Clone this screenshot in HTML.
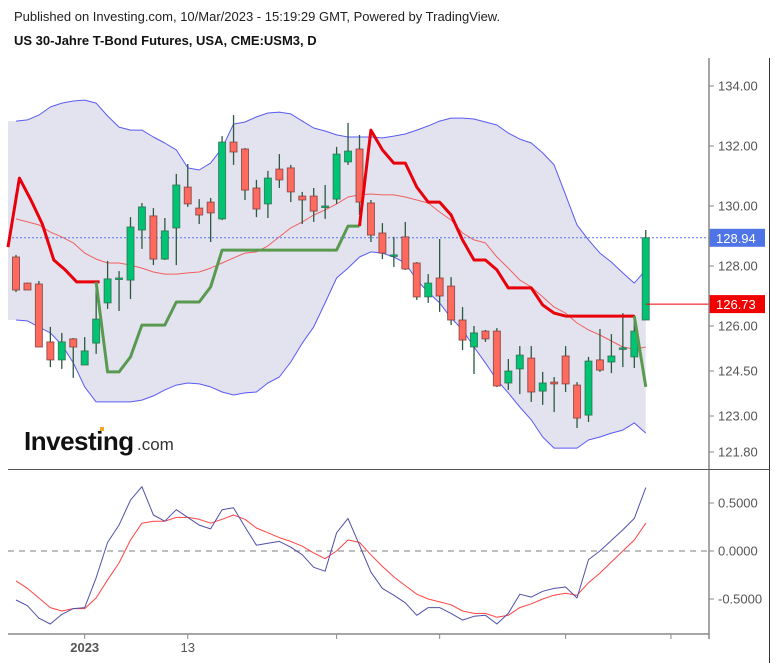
<!DOCTYPE html>
<html><head><meta charset="utf-8">
<style>
html,body{margin:0;padding:0;background:#fff;}
body{width:777px;height:663px;overflow:hidden;font-family:"Liberation Sans",sans-serif;}
svg text{font-family:"Liberation Sans",sans-serif;}
</style></head>
<body>
<svg id="chart" width="777" height="663" viewBox="0 0 777 663" xmlns="http://www.w3.org/2000/svg">
<text x="14" y="21" font-size="13" fill="#222">Published on Investing.com, 10/Mar/2023 - 15:19:29 GMT, Powered by TradingView.</text>
<text x="14" y="45" font-size="13" font-weight="bold" fill="#111">US 30-Jahre T-Bond Futures, USA, CME:USM3, D</text>
<g id="price"></g>
<g id="osc"></g>
<g id="frame">
  <line x1="709" y1="58" x2="709" y2="639" stroke="#888" stroke-width="1.5"/>
  <line x1="769.5" y1="58" x2="769.5" y2="663" stroke="#333" stroke-width="1"/>
  <line x1="8" y1="469.5" x2="770" y2="469.5" stroke="#555" stroke-width="1"/>
  <line x1="8" y1="634" x2="709" y2="634" stroke="#888" stroke-width="1.5"/>
</g>
<g>
  <text x="24" y="450" font-size="26" font-weight="bold" fill="#111" letter-spacing="-0.5">Investing</text>
  <text x="137" y="450" font-size="17" fill="#333">.com</text>
  <rect x="100" y="427" width="4" height="4" fill="#f5a623"/>
</g>
</svg>
<script>
const opens  =[128.3,127.43,127.4,125.47,124.87,125.57,124.7,125.43,126.77,127.55,127.53,129.2,129.67,128.23,129.27,130.63,129.93,130.13,129.57,132.13,131.9,130.6,130.07,131.23,131.27,130.33,130.33,129.97,130.23,131.47,131.9,130.1,129.1,128.37,128.97,128.1,126.97,127.6,127.33,126.2,125.3,125.83,125.83,124.1,124.57,124.93,123.83,124.13,125.0,124.03,123.03,124.87,124.8,125.27,124.97,126.2];
const highs  =[128.37,127.45,127.5,125.97,125.77,125.6,125.63,127.47,128.17,127.83,129.63,130.1,129.93,129.6,131.07,131.4,130.23,130.27,132.33,133.03,131.93,130.87,131.17,131.73,131.37,130.47,130.6,130.7,131.97,132.77,132.37,130.2,129.43,128.97,129.47,128.13,127.73,128.9,127.63,126.63,126.0,125.87,125.93,124.9,125.33,125.33,124.47,124.3,125.33,124.13,124.97,125.9,125.73,126.43,126.37,129.2];
const lows   =[127.13,127.2,125.3,124.63,124.57,124.27,124.7,125.07,126.57,126.5,126.9,128.57,128.03,128.2,128.03,129.97,129.4,128.8,129.53,131.37,130.2,129.63,129.6,130.6,130.13,129.4,129.47,129.57,130.07,131.37,129.7,128.8,128.23,127.97,127.87,126.87,126.77,126.47,126.03,125.2,124.4,125.47,123.97,123.87,123.73,123.47,123.37,123.13,123.8,122.6,122.8,124.47,124.43,124.63,124.6,126.2];
const closes =[127.2,127.2,125.3,124.87,125.47,125.3,125.17,126.23,127.57,127.6,129.3,129.97,128.23,129.17,130.7,130.07,129.7,129.77,132.13,131.8,130.53,129.9,130.93,130.87,130.47,130.2,129.83,130.0,131.73,131.83,130.13,129.03,128.43,128.37,127.9,126.97,127.43,127.0,126.2,125.53,125.77,125.57,124.0,124.5,125.03,123.8,124.1,124.07,124.07,122.93,124.83,124.53,125.0,125.27,125.83,128.94];
const bandUpper=[132.83,132.87,133.03,133.3,133.43,133.5,133.53,133.43,133.0,132.63,132.53,132.53,132.3,132.1,131.87,131.27,131.2,131.43,131.93,132.73,132.8,132.97,133.1,133.13,133.07,132.83,132.6,132.5,132.37,132.3,132.3,132.3,132.27,132.33,132.4,132.53,132.67,132.83,132.93,132.93,132.9,132.8,132.7,132.43,132.23,132.1,131.77,131.37,130.37,129.37,128.87,128.43,128.13,127.77,127.43,127.87];
const bandMiddle=[129.57,129.47,129.37,129.13,128.97,128.77,128.43,128.23,128.1,128.1,128.03,127.93,127.8,127.73,127.73,127.77,127.8,127.93,128.1,128.27,128.43,128.47,128.67,128.97,129.27,129.47,129.7,129.87,130.07,130.3,130.37,130.4,130.37,130.37,130.3,130.2,130.1,129.8,129.53,129.1,128.87,128.77,128.3,127.93,127.53,127.3,126.97,126.63,126.43,126.1,125.87,125.7,125.5,125.3,125.23,125.3];
const bandLower=[126.2,126.17,125.97,125.77,125.37,124.77,123.97,123.47,123.47,123.47,123.47,123.53,123.67,123.87,124.03,124.1,124.07,123.97,123.8,123.7,123.77,123.8,124.1,124.3,124.8,125.43,125.97,126.77,127.6,127.93,128.3,128.47,128.43,128.3,128.1,127.53,127.13,126.77,126.27,125.87,125.3,124.77,124.2,123.77,123.3,122.87,122.3,121.93,121.93,121.93,122.2,122.3,122.43,122.53,122.77,122.43];
const stopRed1Start=-0.7;
const stopRed1=[128.63,130.93,130.2,129.4,128.2,127.87,127.47,127.47,127.47];
const stopGreen1Start=7;
const stopGreen1=[127.47,124.47,124.47,124.97,126.03,126.03,126.03,126.8,126.8,126.8,127.3,128.53,128.53,128.53,128.53,128.53,128.53,128.53,128.53,128.53,128.53,128.53,129.33,129.33];
const stopRed2Start=30;
const stopRed2=[129.33,132.53,131.87,131.43,131.43,130.63,130.13,130.13,129.7,128.87,128.2,128.2,127.87,127.27,127.27,127.27,126.7,126.43,126.33,126.33,126.33,126.33,126.33,126.33,126.33];
const stopGreen2Start=54;
const stopGreen2=[126.33,123.97];
const macdLine=[-0.51,-0.57,-0.70,-0.76,-0.66,-0.60,-0.59,-0.28,0.09,0.27,0.53,0.67,0.375,0.31,0.43,0.35,0.27,0.23,0.43,0.45,0.25,0.06,0.08,0.10,0.04,-0.04,-0.17,-0.21,0.19,0.34,0.06,-0.22,-0.39,-0.46,-0.54,-0.67,-0.59,-0.59,-0.65,-0.72,-0.68,-0.67,-0.76,-0.65,-0.45,-0.48,-0.42,-0.39,-0.375,-0.49,-0.09,0.0,0.11,0.22,0.34,0.66];
const signalLine=[-0.31,-0.39,-0.49,-0.59,-0.625,-0.60,-0.60,-0.49,-0.30,-0.125,0.115,0.29,0.31,0.31,0.35,0.35,0.33,0.29,0.33,0.375,0.33,0.24,0.19,0.14,0.10,0.05,-0.02,-0.08,0.0,0.115,0.09,-0.04,-0.16,-0.27,-0.36,-0.45,-0.50,-0.53,-0.56,-0.625,-0.65,-0.65,-0.69,-0.67,-0.59,-0.55,-0.50,-0.46,-0.44,-0.46,-0.33,-0.23,-0.115,0.0,0.115,0.29];
const priceTicks=[134,132,130,128,126,124.5,123,121.8];
const priceTickLabels=["134.00","132.00","130.00","128.00","126.00","124.50","123.00","121.80"];
const oscTicks=[0.5,0,-0.5];
const oscTickLabels=["0.5000","0.0000","-0.5000"];
const timeTickIdx=[6,15,28,37,48,57.2];
const timeTickLabels=["2023","13","","","",""];
const lastPrice=128.94;
const prevLevel=126.73;

const NS="http://www.w3.org/2000/svg";
function xS(i){return 16+11.45*i;}
function yP(p){return 86+(134-p)*30;}
function yO(v){return 551-v*96;}
function mk(parent,tag,attrs){const e=document.createElementNS(NS,tag);for(const k in attrs)e.setAttribute(k,attrs[k]);parent.appendChild(e);return e;}
const P=document.getElementById('price'), O=document.getElementById('osc');

let pts=[];
bandUpper.forEach((v,i)=>pts.push(xS(i)+','+yP(v)));
for(let i=bandLower.length-1;i>=0;i--)pts.push(xS(i)+','+yP(bandLower[i]));
let bf=mk(P,'polygon',{points:'8,'+yP(bandUpper[0])+' '+pts.join(' ')+' 8,'+yP(bandLower[0]),fill:'#e3e3ef'});


function pl(parent,arr,start,yf,stroke,w,name,extra){
  const p=arr.map((v,k)=>xS(start+k).toFixed(1)+','+yf(v).toFixed(1)).join(' ');
  const e=mk(parent,'polyline',Object.assign({points:p,fill:'none',stroke:stroke,'stroke-width':w,'stroke-linejoin':'round'},extra||{}));
  
  
  return e;
}
pl(P,bandUpper,0,yP,'#5a5af5',1,'bollinger-upper');
pl(P,bandLower,0,yP,'#5a5af5',1,'bollinger-lower');
pl(P,bandMiddle,0,yP,'#f06060',1,'bollinger-middle');
let lp=mk(P,'line',{x1:8,x2:709,y1:yP(lastPrice),y2:yP(lastPrice),stroke:'#5577ee','stroke-width':1,'stroke-dasharray':'2,2'});


for(let i=0;i<opens.length;i++){
  const g=mk(P,'g',{});
  
  
  const up=closes[i]>=opens[i];
  const x=xS(i);
  mk(g,'line',{x1:x,x2:x,y1:yP(highs[i]),y2:yP(lows[i]),stroke:'#2c5a3e','stroke-width':1.3});
  const t=yP(Math.max(opens[i],closes[i])), b=yP(Math.min(opens[i],closes[i]));
  mk(g,'rect',{x:x-3.5,y:t,width:7,height:Math.max(b-t,1.5),fill:up?'#00c473':'#ff6a5e',stroke:up?'#2a6a4a':'#7a3a3a','stroke-width':1,'stroke-opacity':0.75});
}
pl(P,stopRed1,stopRed1Start,yP,'#e8000b',3,'stop-line-red-1');
pl(P,stopGreen1,stopGreen1Start,yP,'#5a9a50',3,'stop-line-green-1');
pl(P,stopRed2,stopRed2Start,yP,'#e8000b',3,'stop-line-red-2');
pl(P,stopGreen2,stopGreen2Start,yP,'#5a9a50',3,'stop-line-green-2');
let pv=mk(P,'line',{x1:xS(55),x2:709,y1:yP(prevLevel),y2:yP(prevLevel),stroke:'#e00','stroke-width':1});


priceTicks.forEach((p,k)=>{
  const y=yP(p);
  mk(P,'line',{x1:709,x2:714,y1:y,y2:y,stroke:'#888'});
  const t=mk(P,'text',{x:718,y:y+4.5,'font-size':13,fill:'#555'});t.textContent=priceTickLabels[k];
  
  
});
function badge(p,txt,col,name){
  const y=yP(p);
  const g=mk(P,'g',{});
  
  
  mk(g,'rect',{x:709,y:y-9,width:56,height:18,fill:col});
  const t=mk(g,'text',{x:716,y:y+5,'font-size':13,fill:'#fff'});t.textContent=txt;
}
badge(lastPrice,lastPrice.toFixed(2),'#4f74e6','last-price-badge');
badge(prevLevel,prevLevel.toFixed(2),'#f20000','level-badge');

let z=mk(O,'line',{x1:8,x2:709,y1:yO(0),y2:yO(0),stroke:'#999','stroke-width':1.3,'stroke-dasharray':'6,5'});


pl(O,signalLine,0,yO,'#ff4444',1,'signal-line');
pl(O,macdLine,0,yO,'#5050aa',1,'macd-line');
oscTicks.forEach((v,k)=>{
  const y=yO(v);
  mk(O,'line',{x1:709,x2:714,y1:y,y2:y,stroke:'#888'});
  const t=mk(O,'text',{x:718,y:y+4.5,'font-size':13,fill:'#555'});t.textContent=oscTickLabels[k];
  
  
});
timeTickIdx.forEach((i,k)=>{
  const x=xS(i);
  mk(O,'line',{x1:x,x2:x,y1:634,y2:639,stroke:'#888'});
  if(timeTickLabels[k]){
    const t=mk(O,'text',{x:x,y:652,'font-size':13,fill:'#555','text-anchor':'middle','font-weight':k===0?'bold':'normal'});
    t.textContent=timeTickLabels[k];
    
    
  }
});
</script>
</body></html>
